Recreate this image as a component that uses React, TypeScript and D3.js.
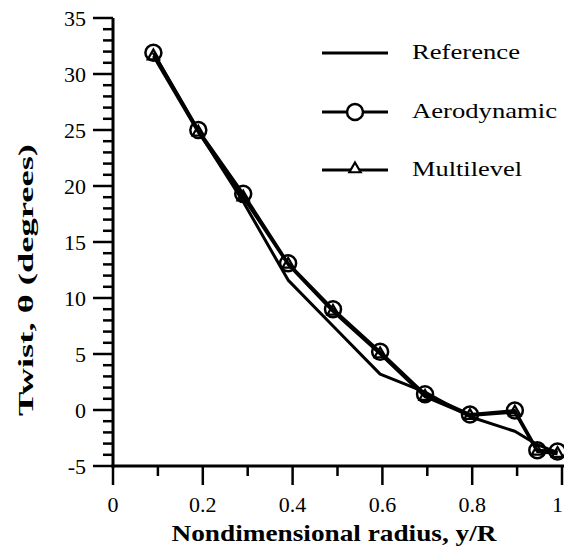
import React from "react";
import * as d3 from "d3";

const radius = [0.09, 0.19, 0.29, 0.39, 0.49, 0.595, 0.695, 0.795, 0.895, 0.945, 0.99];
const referenceTwist = [31.9, 24.9, 18.6, 11.6, 7.5, 3.2, 1.6, -0.6, -1.9, -3.1, -3.8];
const aerodynamicTwist = [31.9, 25.0, 19.3, 13.1, 9.0, 5.2, 1.4, -0.4, -0.05, -3.6, -3.7];
const multilevelTwist = [31.6, 24.8, 19.0, 13.0, 8.8, 5.0, 1.2, -0.5, -0.2, -3.7, -3.9];
const xTicks = [0, 0.2, 0.4, 0.6, 0.8, 1];
const xTickLabels = ["0", "0.2", "0.4", "0.6", "0.8", "1"];
const yTicks = [-5, 0, 5, 10, 15, 20, 25, 30, 35];
const legendNames = ["Reference", "Aerodynamic", "Multilevel"];

const W = 564;
const H = 556;
const serif = "Liberation Serif, Tinos, Times New Roman, Times, serif";

export default function App() {
  const x = d3.scaleLinear().domain([0, 1]).range([113, 562]);
  const y = d3.scaleLinear().domain([-5, 35]).range([466, 18]);
  const line = d3
    .line<[number, number]>()
    .x((d) => x(d[0]))
    .y((d) => y(d[1]));
  const refPts = radius.map((r, i) => [r, referenceTwist[i]] as [number, number]);
  const aeroPts = radius.map((r, i) => [r, aerodynamicTwist[i]] as [number, number]);
  const multiPts = radius.map((r, i) => [r, multilevelTwist[i]] as [number, number]);
  const minorX = d3.range(0, 1.0001, 0.1);
  const minorY = d3.range(-5, 35.001, 1);
  const tri = d3.symbol().type(d3.symbolTriangle).size(55);
  const legendY = [53, 112, 170];
  const legendW = [108, 145, 110];
  const txt = { fontFamily: serif, fill: "#000" } as React.CSSProperties;

  return (
    <svg
      width={W}
      height={H}
      style={{ position: "absolute", left: 0, top: 0, background: "#fff" }}
    >
      <rect width={W} height={H} fill="#fff" />
      {/* axes */}
      <line x1={x(0)} x2={x(0)} y1={y(35)} y2={y(-5) + 1.5} stroke="#000" strokeWidth={3} />
      <line x1={x(0) - 1.5} x2={W} y1={y(-5)} y2={y(-5)} stroke="#000" strokeWidth={3} />
      {minorY.map((v, i) => {
        const major = Math.abs(v % 5) < 1e-6;
        return (
          <line
            key={"yt" + i}
            x1={x(0) - (major ? 20 : 10)}
            x2={x(0)}
            y1={y(v)}
            y2={y(v)}
            stroke="#000"
            strokeWidth={2.5}
          />
        );
      })}
      {minorX.map((v, i) => {
        const major = i % 2 === 0;
        return (
          <line
            key={"xt" + i}
            x1={x(v)}
            x2={x(v)}
            y1={y(-5)}
            y2={y(-5) + (major ? 19 : 10)}
            stroke="#000"
            strokeWidth={2.5}
          />
        );
      })}
      {yTicks.map((v) => (
        <text
          key={"yl" + v}
          x={86}
          y={y(v) + 8}
          textAnchor="end"
          style={{ ...txt, fontSize: 22 }}
        >
          {v}
        </text>
      ))}
      {xTicks.map((v, i) => (
        <text
          key={"xl" + v}
          x={i === xTicks.length - 1 ? 563 : x(v)}
          y={512}
          textAnchor={i === xTicks.length - 1 ? "end" : "middle"}
          style={{ ...txt, fontSize: 22 }}
        >
          {xTickLabels[i]}
        </text>
      ))}
      <text
        x={334}
        y={541}
        textAnchor="middle"
        style={{ ...txt, fontSize: 23, fontWeight: "bold" }}
        textLength={325}
        lengthAdjust="spacingAndGlyphs"
      >
        Nondimensional radius, y/R
      </text>
      <text
        transform="translate(33,280) rotate(-90)"
        textAnchor="middle"
        style={{ ...txt, fontSize: 22, fontWeight: "bold" }}
        textLength={272}
        lengthAdjust="spacingAndGlyphs"
      >
        Twist, θ  (degrees)
      </text>

      {/* series */}
      <path d={line(refPts) || ""} fill="none" stroke="#000" strokeWidth={3} strokeLinejoin="round" />
      <path d={line(aeroPts) || ""} fill="none" stroke="#000" strokeWidth={3} strokeLinejoin="round" />
      <path d={line(multiPts) || ""} fill="none" stroke="#000" strokeWidth={3} strokeLinejoin="round" />
      {aeroPts.map((p, i) => (
        <circle
          key={"c" + i}
          cx={x(p[0])}
          cy={y(p[1])}
          r={8}
          fill="none"
          stroke="#000"
          strokeWidth={2.5}
        />
      ))}
      {multiPts.map((p, i) => (
        <path
          key={"t" + i}
          d={tri() || ""}
          transform={`translate(${x(p[0])},${y(p[1])})`}
          fill="none"
          stroke="#000"
          strokeWidth={2.2}
        />
      ))}

      {/* legend */}
      {legendNames.map((name, i) => (
        <g key={name}>
          <line x1={322} x2={388} y1={legendY[i]} y2={legendY[i]} stroke="#000" strokeWidth={3} />
          {i === 1 && (
            <circle cx={355} cy={legendY[i]} r={8} fill="#fff" stroke="#000" strokeWidth={2.5} />
          )}
          {i === 2 && (
            <path
              d={tri() || ""}
              transform={`translate(355,${legendY[i] - 1})`}
              fill="#fff"
              stroke="#000"
              strokeWidth={2.2}
            />
          )}
          <text
            x={412}
            y={legendY[i] + 6}
            style={{ ...txt, fontSize: 21 }}
            textLength={legendW[i]}
            lengthAdjust="spacingAndGlyphs"
          >
            {name}
          </text>
        </g>
      ))}
    </svg>
  );
}
